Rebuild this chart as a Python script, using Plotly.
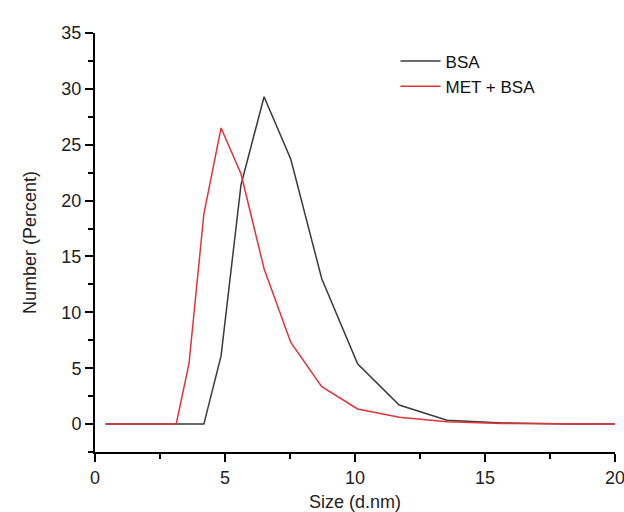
import plotly.graph_objects as go

size_nm = [0.4, 0.4632, 0.5365, 0.6213, 0.7195, 0.8332, 0.9649, 1.117, 1.294, 1.499,
           1.736, 2.01, 2.328, 2.696, 3.122, 3.615, 4.187, 4.849, 5.615, 6.503,
           7.531, 8.721, 10.1, 11.7, 13.54, 15.69, 18.17, 21.04]
bsa = [0, 0, 0, 0, 0, 0, 0, 0, 0, 0,
       0, 0, 0, 0, 0, 0, 0, 6.1, 21.4, 29.3,
       23.7, 13.0, 5.4, 1.7, 0.35, 0.1, 0, 0]
met_bsa = [0, 0, 0, 0, 0, 0, 0, 0, 0, 0,
           0, 0, 0, 0, 0, 5.4, 18.8, 26.5, 22.4, 13.9,
           7.3, 3.35, 1.35, 0.6, 0.2, 0.05, 0, 0]

font = "Liberation Sans, Arial, sans-serif"

fig = go.Figure()
fig.add_trace(go.Scatter(x=size_nm, y=bsa, mode="lines", name="BSA",
                         line=dict(color="#3a3a3a", width=1.5)))
fig.add_trace(go.Scatter(x=size_nm, y=met_bsa, mode="lines", name="MET + BSA",
                         line=dict(color="#e0333a", width=1.5)))

axis_common = dict(showgrid=False, zeroline=False, showline=True, linecolor="black",
                   linewidth=2, ticks="outside", ticklen=8, tickwidth=2, tickcolor="black",
                   tickfont=dict(family=font, size=18, color="#222"), mirror=False,
                   automargin=False, ticklabeloverflow="allow")

fig.update_layout(
    width=624, height=512,
    margin=dict(l=95, r=9, t=33, b=60),
    paper_bgcolor="white", plot_bgcolor="white",
    font=dict(family=font, size=18, color="#222"),
    xaxis=dict(range=[0, 20], dtick=5, tick0=0,
               title=dict(text="Size (d.nm)", font=dict(family=font, size=18), standoff=17),
               minor=dict(ticks="outside", ticklen=5, tickwidth=1.5, tickcolor="black", dtick=2.5),
               **axis_common),
    yaxis=dict(range=[-2.5, 35], dtick=5, tick0=0,
               title=dict(text="Number (Percent)", font=dict(family=font, size=18), standoff=20),
               minor=dict(ticks="outside", ticklen=5, tickwidth=1.5, tickcolor="black", dtick=2.5),
               **axis_common),
    legend=dict(x=0.578, y=0.975, xanchor="left", yanchor="top", bgcolor="rgba(0,0,0,0)",
                font=dict(family=font, size=17, color="#111"), tracegroupgap=0,
                itemwidth=40),
    showlegend=True,
)

fig.write_html("out.html")
